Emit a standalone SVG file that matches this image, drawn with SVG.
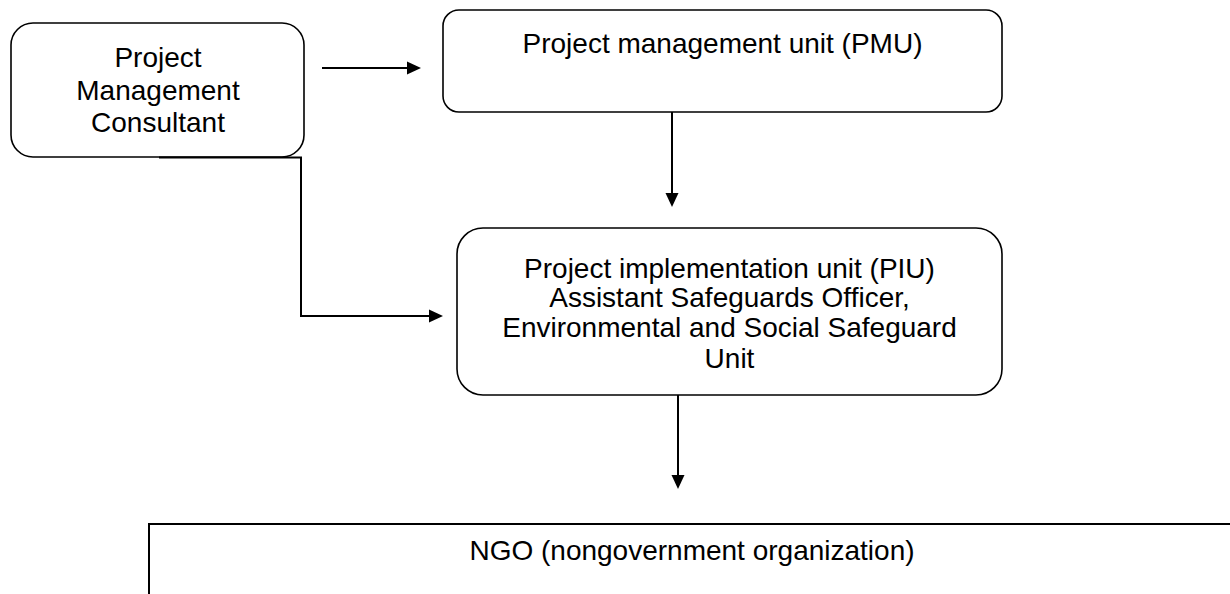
<svg xmlns="http://www.w3.org/2000/svg" width="1230" height="594" viewBox="0 0 1230 594">
<style>
.box{fill:#fff;stroke:#000;stroke-width:1.6}
.t{font-family:"Liberation Sans",Arial,sans-serif;font-size:28px;fill:#000;text-anchor:middle}
.c{fill:none;stroke:#000;stroke-width:2}
</style>
<defs>
<marker id="ah" markerUnits="userSpaceOnUse" markerWidth="16" markerHeight="16" viewBox="0 -8 16 16" refX="0" refY="0" orient="auto">
<path d="M0,-6.5 L14,0 L0,6.5 z" fill="#000"/>
</marker>
</defs>
<rect width="1230" height="594" fill="#fff"/>
<g id="pmc">
<rect class="box" x="11" y="23" width="293" height="134" rx="22" ry="22"/>
<text class="t" x="158" y="67">Project</text>
<text class="t" x="158" y="100">Management</text>
<text class="t" x="158" y="132">Consultant</text>
</g>
<g id="pmu">
<rect class="box" x="443" y="10" width="559" height="102" rx="16" ry="16"/>
<text class="t" x="722.5" y="53">Project management unit (PMU)</text>
</g>
<g id="piu">
<rect class="box" x="457" y="228" width="545" height="167" rx="26" ry="26"/>
<text class="t" x="729.5" y="278">Project implementation unit (PIU)</text>
<text class="t" x="729.5" y="307">Assistant Safeguards Officer,</text>
<text class="t" x="729.5" y="337">Environmental and Social Safeguard</text>
<text class="t" x="729.5" y="368">Unit</text>
</g>
<g id="ngo">
<rect x="149" y="524" width="1100" height="200" fill="#fff" stroke="#000" stroke-width="2"/>
<text class="t" x="692" y="560">NGO (nongovernment organization)</text>
</g>
<g id="connectors">
<path class="c" d="M322 68 H407" marker-end="url(#ah)"/>
<path class="c" d="M159 157.5 H301 V316 H429" marker-end="url(#ah)"/>
<path class="c" d="M672 112 V193" marker-end="url(#ah)"/>
<path class="c" d="M678 395 V475" marker-end="url(#ah)"/>
</g>
</svg>
